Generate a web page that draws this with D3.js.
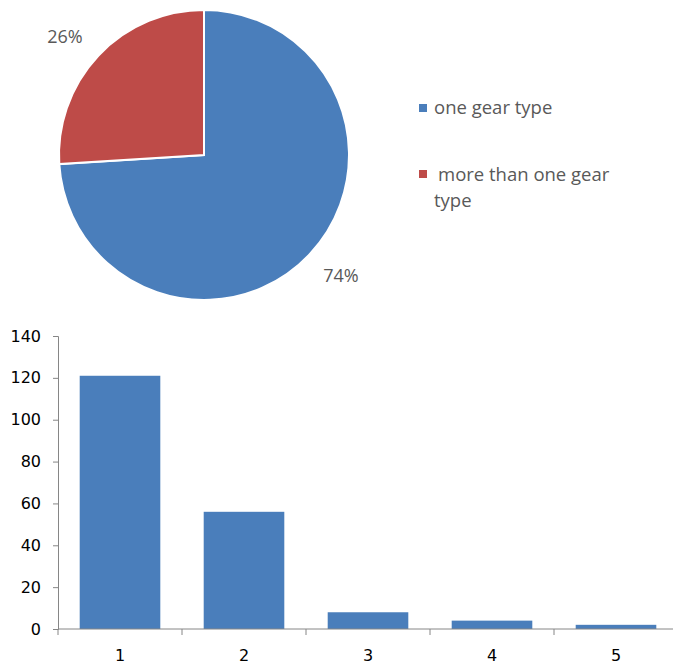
<!DOCTYPE html>
<html>
<head>
<meta charset="utf-8">
<script src="https://cdn.jsdelivr.net/npm/d3@7"></script>
<style>
  body { margin: 0; background: #fff; }
</style>
</head>
<body>
<svg id="chart" width="673" height="664"></svg>
<script>
// pie data
var pieLabels = ["one gear type", "more than one gear type"];
var pieValues = [74, 26];
var pieColors = ["#4a7ebb", "#be4b48"];

// bar data
var barCategories = ["1", "2", "3", "4", "5"];
var barValues = [121, 56, 8, 4, 2];
var yTicks = [0, 20, 40, 60, 80, 100, 120, 140];

var svg = d3.select("#chart");
var labelFont = "'Open Sans', Lato, sans-serif";
var axisFont = "'DejaVu Sans', sans-serif";

// pie chart
var pieG = svg.append("g").attr("transform", "translate(204,155)");
var pie = d3.pie().sort(null).value(function(d) { return d; });
var arc = d3.arc().innerRadius(0).outerRadius(145);

pieG.selectAll("path")
  .data(pie(pieValues))
  .enter()
  .append("path")
  .attr("d", arc)
  .attr("fill", function(d, i) { return pieColors[i]; })
  .attr("stroke", "#fff")
  .attr("stroke-width", 2);

// percent labels outside the pie
pieG.selectAll("text.pct")
  .data(pie(pieValues))
  .enter()
  .append("text")
  .attr("class", "pct")
  .attr("x", function(d, i) { return i == 0 ? 137 : -139; })
  .attr("y", function(d, i) { return i == 0 ? 127 : -112; })
  .attr("text-anchor", "middle")
  .attr("fill", "#595959")
  .style("font-family", labelFont)
  .style("font-size", "18px")
  .text(function(d) { return d.value + "%"; });

// legend
var legend = svg.append("g").attr("transform", "translate(419,0)");
legend.append("rect").attr("x", 0).attr("y", 104).attr("width", 8).attr("height", 8).attr("fill", pieColors[0]);
legend.append("text").attr("x", 15).attr("y", 114)
  .attr("fill", "#595959")
  .style("font-family", labelFont)
  .style("font-size", "18.5px")
  .text(pieLabels[0]);
legend.append("rect").attr("x", 0).attr("y", 170).attr("width", 8).attr("height", 8).attr("fill", pieColors[1]);
var lt = legend.append("text")
  .attr("fill", "#595959")
  .style("font-family", labelFont)
  .style("font-size", "18.5px");
lt.append("tspan").attr("x", 19).attr("y", 181).text("more than one gear");
lt.append("tspan").attr("x", 15).attr("y", 207).text("type");

// bar chart
var margin = { left: 58, top: 336 };
var plotW = 620, plotH = 293;

var x = d3.scaleBand().domain(barCategories).range([0, plotW]).paddingInner(0.35).paddingOuter(0.175);
var y = d3.scaleLinear().domain([0, 140]).range([plotH, 0]);

var barG = svg.append("g").attr("transform", "translate(" + margin.left + "," + margin.top + ")");

barG.selectAll("rect")
  .data(barValues)
  .enter()
  .append("rect")
  .attr("x", function(d, i) { return x(barCategories[i]); })
  .attr("y", function(d) { return y(d); })
  .attr("width", x.bandwidth())
  .attr("height", function(d) { return plotH - y(d); })
  .attr("fill", "#4a7ebb");

// y axis
var yAxis = barG.append("g")
  .call(d3.axisLeft(y).tickValues(yTicks).tickSize(5).tickPadding(12));
yAxis.selectAll("line, path").attr("stroke", "#868686");
yAxis.selectAll("text")
  .attr("fill", "#000")
  .style("font-family", axisFont)
  .style("font-size", "16px");

// x axis with ticks between categories
var xAxis = barG.append("g").attr("transform", "translate(0," + plotH + ")");
xAxis.append("line").attr("x1", 0).attr("x2", plotW).attr("stroke", "#868686");
var step = x.step();
xAxis.selectAll("line.tick")
  .data(d3.range(barCategories.length + 1))
  .enter()
  .append("line")
  .attr("class", "tick")
  .attr("x1", function(d) { return d * step; })
  .attr("x2", function(d) { return d * step; })
  .attr("y1", 0).attr("y2", 6)
  .attr("stroke", "#868686");
xAxis.selectAll("text")
  .data(barCategories)
  .enter()
  .append("text")
  .attr("x", function(d) { return x(d) + x.bandwidth() / 2; })
  .attr("y", 32)
  .attr("text-anchor", "middle")
  .attr("fill", "#000")
  .style("font-family", axisFont)
  .style("font-size", "16px")
  .text(function(d) { return d; });
</script>
</body>
</html>
